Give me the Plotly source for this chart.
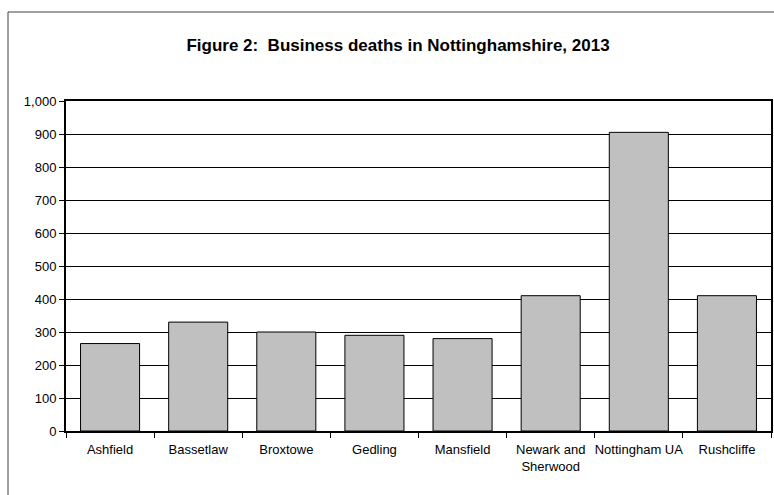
import plotly.graph_objects as go

categories = ["Ashfield", "Bassetlaw", "Broxtowe", "Gedling", "Mansfield",
              "Newark and<br>Sherwood", "Nottingham UA", "Rushcliffe"]
deaths = [265, 330, 300, 290, 280, 410, 905, 410]
y_ticks = [0, 100, 200, 300, 400, 500, 600, 700, 800, 900, 1000]

fig = go.Figure(go.Bar(
    x=categories, y=deaths,
    marker=dict(color="#C0C0C0", line=dict(color="black", width=1)),
    hoverinfo="x+y",
))

L, R, T, B = 66, 3, 101, 64
W, H = 774, 495
pw, ph = W - L - R, H - T - B

fig.update_layout(
    width=W, height=H,
    margin=dict(l=L, r=R, t=T, b=B, autoexpand=False),
    paper_bgcolor="white", plot_bgcolor="white",
    bargap=0.33,
    showlegend=False,
    font=dict(family="Liberation Sans, Arial, sans-serif", color="black", size=13),
    title=dict(text="<b>Figure 2:  Business deaths in Nottinghamshire, 2013</b>",
               x=(398 - L) / pw, xref="paper", xanchor="center",
               y=1 - 45 / H, yanchor="middle",
               font=dict(size=17, color="black")),
    xaxis=dict(showline=True, linecolor="black", linewidth=2, mirror=True,
               ticks="outside", tickson="boundaries", ticklen=5, tickcolor="black",
               showgrid=False, tickfont=dict(size=13), tickangle=0,
               ticklabelstandoff=5, automargin=False),
    yaxis=dict(range=[0, 1000], tickvals=y_ticks, tickformat=",",
               showline=True, linecolor="black", linewidth=2, mirror=True,
               ticks="outside", ticklen=5, tickcolor="black",
               showgrid=True, gridcolor="black", gridwidth=1,
               tickfont=dict(size=13), zeroline=False, automargin=False),
    shapes=[dict(type="rect", xref="paper", yref="paper",
                 x0=(8 - L) / pw, x1=1 + 20 / pw,
                 y0=-(B + 20) / ph, y1=1 + (T - 12) / ph,
                 line=dict(color="#404040", width=1), layer="below")],
)

fig.write_html("out.html",
               config={"displayModeBar": False},
               post_script="document.body.style.margin='0';document.body.style.overflow='hidden';")
